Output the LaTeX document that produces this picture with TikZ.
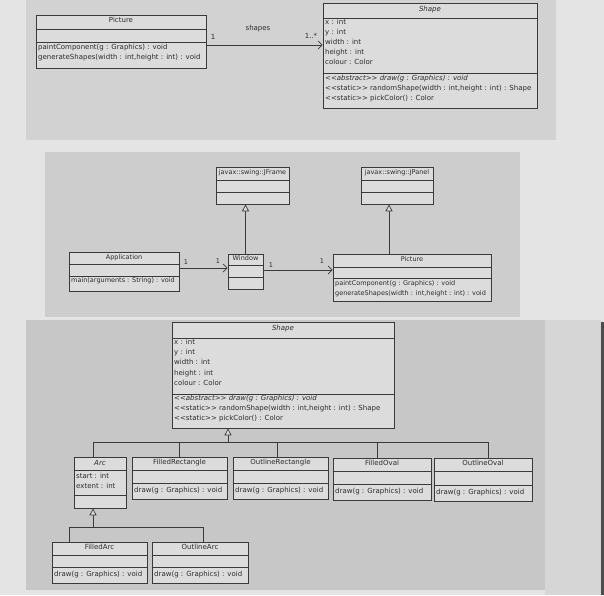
\documentclass[tikz,border=0pt]{standalone}
\usepackage{fontspec}
\usetikzlibrary{arrows.meta,positioning}
\newfontfamily\umlfont{DejaVu Sans}
\def\umlsz{7}

\definecolor{outsidegray}{HTML}{E4E4E4}
\definecolor{panelgray}{HTML}{CDCDCD}
\definecolor{boxfill}{HTML}{DCDCDC}
\definecolor{boxline}{HTML}{3A3A3A}
\definecolor{textcol}{HTML}{2C2C2C}

\tikzset{
  panelbg/.style={fill=panelgray},
  classbox/.style={draw=boxline, fill=boxfill, line width=0.7pt, inner sep=0pt},
  sep/.style={draw=boxline, line width=0.6pt},
  txt/.style={font=\umlfont\fontsize{\umlsz}{8}\selectfont, text=textcol, inner sep=0pt,
    text height=5pt, text depth=1.4pt},
  member/.style={txt, anchor=west},
  conn/.style={draw=boxline, line width=0.7pt},
  assoc/.style={conn, -{Straight Barb[length=4pt, width=8pt, line width=0.7pt]}},
  inherit/.style={conn, -{Triangle[open, length=7pt, width=7pt, fill=boxfill]}}
}

\begin{document}
\begin{tikzpicture}[x=1pt,y=-1pt]
  \useasboundingbox (0,0) rectangle (604,595);
  \fill[outsidegray] (0,0) rectangle (604,595);
% Panels
  \fill[panelgray!80!outsidegray] (26,0) rectangle (556,140);
  \fill[panelgray] (45,152) rectangle (520,317);
  \fill[panelgray!97!black] (26,320) rectangle (545,590);
  \fill[panelgray!60!outsidegray] (545,320) rectangle (601,595);
  \fill[gray!60!black] (601,322) rectangle (604,595);

% Picture -- Shape
  \node[classbox, minimum width=170pt, minimum height=53pt] (pic1) at (121,41.5) {};
  \node[classbox, minimum width=214pt, minimum height=105pt] (shp1) at (430,55.5) {};
  \node[txt] (pic1t) at (121,21) {Picture};
  \node[member] (pic1m1) at (38,48) {paintComponent(g : Graphics) : void};
  \node[member] (pic1m2) at (38,58) {generateShapes(width : int,height : int) : void};
  \node[txt] (shp1t) at (430,10) {\itshape Shape};
  \foreach \t [count=\i] in {x : int, y : int, width : int, height : int, colour : Color}
    \node[member] (shp1a\i) at (325,13+10*\i) {\t};
  \node[member] (shp1m1) at (325,79) {\itshape <{}<abstract>{}> draw(g : Graphics) : void};
  \node[member] (shp1m2) at (325,89) {<{}<static>{}> randomShape(width : int,height : int) : Shape};
  \node[member] (shp1m3) at (325,99) {<{}<static>{}> pickColor() : Color};
  \coordinate (a0) at ([yshift=-3.5pt]pic1.east);
  \draw[assoc] (a0) -- (a0 -| shp1.west);
  \node[txt] (m1) at (213,38) {1};
  \node[txt] (rolename) at (258,29) {shapes};
  \node[txt] (m2) at (311,37) {1..*};

% Application, Window and Picture
\begin{scope}
  \def\umlsz{6.5}
  \node[classbox, minimum width=73pt, minimum height=37pt] (frame) at (252.5,185.5) {};
  \node[classbox, minimum width=72pt, minimum height=37pt] (jpanel) at (397,185.5) {};
  \node[classbox, minimum width=35pt, minimum height=35pt] (win) at (245.5,271.5) {};
  \node[classbox, minimum width=110pt, minimum height=39pt] (app) at (124,271.5) {};
  \node[classbox, minimum width=158pt, minimum height=47pt] (pic2) at (412,277.5) {};
  \node[txt] (framet) at (252.5,173) {javax::swing::JFrame};
  \node[txt] (jpanelt) at (397,173) {javax::swing::JPanel};
  \node[txt] (wint) at (245.5,259) {Window};
  \node[txt] (appt) at (124,257.5) {Application};
  \node[member] (appm) at (71,281) {main(arguments : String) : void};
  \node[txt] (pic2t) at (412,260) {Picture};
  \node[member] (pic2m1) at (335,284) {paintComponent(g : Graphics) : void};
  \node[member] (pic2m2) at (335,294) {generateShapes(width : int,height : int) : void};
  \coordinate (a1) at ([yshift=3.5pt]app.east);
  \draw[assoc] (a1) -- (a1 -| win.west);
  \coordinate (a2) at ([yshift=1.5pt]win.east);
  \draw[assoc] (a2) -- (a2 -| pic2.west);
  \node[txt] (m3) at (186,263) {1};
  \node[txt] (m4) at (218,262) {1};
  \node[txt] (m5) at (271,266) {1};
  \node[txt] (m6) at (322,262) {1};
  \draw[inherit] (win.north) -- (win.north |- frame.south);
  \coordinate (jp) at ([xshift=-8pt]jpanel.south);
  \draw[inherit] (jp |- pic2.north) -- (jp);
\end{scope}

% Shape hierarchy
  \node[classbox, minimum width=222pt, minimum height=106pt] (shp3) at (283,375) {};
  \node[classbox, minimum width=52pt, minimum height=51pt] (arc) at (100,482.5) {};
  \node[classbox, minimum width=95pt, minimum height=42pt] (frect) at (179.5,478) {};
  \node[classbox, minimum width=95pt, minimum height=42pt] (orect) at (280.5,478) {};
  \node[classbox, minimum width=98pt, minimum height=42pt] (foval) at (382,479) {};
  \node[classbox, minimum width=98pt, minimum height=43pt] (ooval) at (483,479.5) {};
  \node[classbox, minimum width=95pt, minimum height=41pt] (farc) at (99.5,562.5) {};
  \node[classbox, minimum width=96pt, minimum height=41pt] (oarc) at (200,562.5) {};
  \node[txt] (shp3t) at (283,329) {\itshape Shape};
  \foreach \t [count=\i] in {x : int, y : int, width : int, height : int, colour : Color}
    \node[member] (shp3a\i) at (174,332+10.3*\i) {\t};
  \node[member] (shp3m1) at (174,399) {\itshape <{}<abstract>{}> draw(g : Graphics) : void};
  \node[member] (shp3m2) at (174,409) {<{}<static>{}> randomShape(width : int,height : int) : Shape};
  \node[member] (shp3m3) at (174,419) {<{}<static>{}> pickColor() : Color};
  \node[txt] (arct) at (100,463.5) {\itshape Arc};
  \node[member] (arca1) at (76,477) {start : int};
  \node[member] (arca2) at (76,487) {extent : int};
  \foreach \n/\t/\x/\y in {frect/FilledRectangle/134/491, orect/OutlineRectangle/235/491,
      foval/FilledOval/335/492, ooval/OutlineOval/436/493,
      farc/FilledArc/54/575, oarc/OutlineArc/154/575} {
    \node[txt] (\n title) at ([yshift=-6.5pt]\n.north) {\t};
    \node[member] (\n m) at (\x,\y) {draw(g : Graphics) : void};
  }
  \foreach \n/\a/\b in {pic1/29/42, shp1/18/73, frame/180/192, jpanel/180/192,
      win/265/277, app/264/276, pic2/267/278, shp3/338/394, arc/470/495,
      frect/470/483, orect/470/483, foval/471/484, ooval/471/485,
      farc/555/567, oarc/555/567}
    \draw[sep] (\n.west |- 0,\a) -- (\n.east |- 0,\a) (\n.west |- 0,\b) -- (\n.east |- 0,\b);
  % generalisation trees
  \coordinate (j3) at (228,442);
  \draw[inherit] (j3) -- (j3 |- shp3.south);
  \draw[conn] ([xshift=-7pt]arc.north) |- (j3);
  \draw[conn] ([xshift=5pt]ooval.north) |- (j3);
  \draw[conn] (frect.north) -- (frect.north |- j3);
  \draw[conn] ([xshift=-3.5pt]orect.north) -- ([xshift=-3.5pt]orect.north |- j3);
  \draw[conn] ([xshift=-5pt]foval.north) -- ([xshift=-5pt]foval.north |- j3);
  \coordinate (j4) at (93,527);
  \draw[inherit] (j4) -- (j4 |- arc.south);
  \draw[conn] ([xshift=18pt]farc.north west) |- (j4);
  \draw[conn] ([xshift=52pt]oarc.north west) |- (j4);
\end{tikzpicture}
\end{document}
